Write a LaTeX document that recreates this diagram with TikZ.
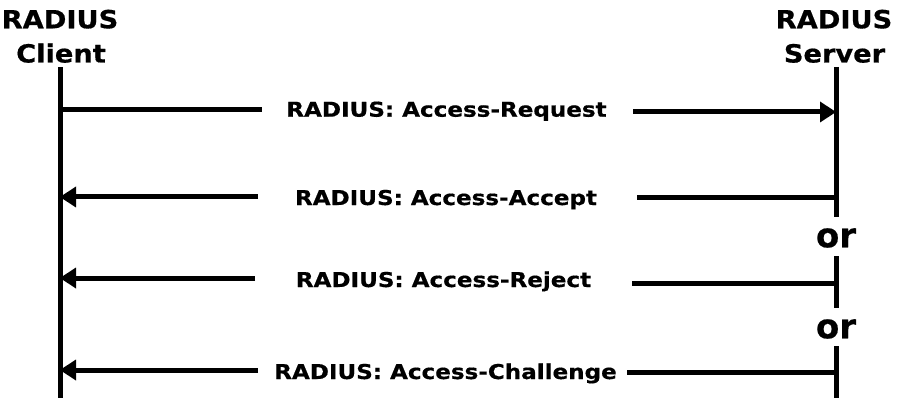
\documentclass[tikz,border=0pt]{standalone}
\usepackage{fontspec}
\setmainfont{DejaVu Sans}[BoldFeatures={FakeBold=0.5}]
\newfontfamily\lblfont{DejaVu Sans}[FakeStretch=1.13,BoldFeatures={FakeBold=0.6}]
\newfontfamily\ttlfont{DejaVu Sans}[FakeStretch=1.09,BoldFeatures={FakeBold=0.6}]
\usetikzlibrary{arrows.meta}
\begin{document}
\begin{tikzpicture}[x=1pt,y=-1pt,
  life/.style={line width=5pt},
  msg/.style={line width=5pt},
  tipr/.style={-{Triangle[length=16pt,width=21pt,line width=0pt]}},
  ttl/.style={font=\ttlfont\bfseries\fontsize{25}{30}\selectfont, inner sep=0pt, anchor=base},
  lbl/.style={font=\lblfont\bfseries\fontsize{20.4}{26}\selectfont, inner sep=0pt, anchor=base},
  orl/.style={font=\bfseries\fontsize{34}{40}\selectfont, inner sep=0pt}]
\useasboundingbox[fill=white] (0,0) rectangle (899,414);
% titles
\node[ttl] (clA) at (60,28.3) {RADIUS};
\node[ttl] (clB) at (61,62.5) {Client};
\node[ttl] (svA) at (834,28.3) {RADIUS};
\node[ttl] (svB) at (834.5,62.5) {Server};
% lifelines
\coordinate (ctop) at (60,67);
\coordinate (cbot) at (60,398);
\draw[life] (ctop) -- (cbot);
\node[orl] (or1) at (836,238) {or};
\node[orl] (or2) at (836,329) {or};
\coordinate (stop) at (836,67);
\coordinate (sa) at (836,217);
\coordinate (sb) at (836,256);
\coordinate (sc) at (836,308);
\coordinate (sd) at (836,346);
\coordinate (sbot) at (836,398);
\draw[life] (stop) -- (sa);
\draw[life] (sb) -- (sc);
\draw[life] (sd) -- (sbot);
% Access-Request
\node[lbl] (m1) at (446.5,116.7) {RADIUS: Access-Request};
\coordinate (c1) at (60,110);
\coordinate (m1l) at (262,110);
\coordinate (m1r) at (633,112);
\coordinate (s1) at (836,112);
\draw[msg] (c1) -- (m1l);
\draw[msg,tipr] (m1r) -- (s1);
% Access-Accept
\node[lbl] (m2) at (446,205) {RADIUS: Access-Accept};
\coordinate (c2) at (60,197);
\coordinate (m2l) at (258,197);
\coordinate (m2r) at (637,198);
\coordinate (s2) at (836,198);
\draw[msg,tipr] (m2l) -- (c2);
\draw[msg] (m2r) -- (s2);
% Access-Reject
\node[lbl] (m3) at (443.5,287) {RADIUS: Access-Reject};
\coordinate (c3) at (60,278);
\coordinate (m3l) at (255,278);
\coordinate (m3r) at (632,283);
\coordinate (s3) at (836,283);
\draw[msg,tipr] (m3l) -- (c3);
\draw[msg] (m3r) -- (s3);
% Access-Challenge
\node[lbl] (m4) at (445.5,379) {RADIUS: Access-Challenge};
\coordinate (c4) at (60,370);
\coordinate (m4l) at (258,370);
\coordinate (m4r) at (627,372);
\coordinate (s4) at (836,372);
\draw[msg,tipr] (m4l) -- (c4);
\draw[msg] (m4r) -- (s4);
\end{tikzpicture}
\end{document}
